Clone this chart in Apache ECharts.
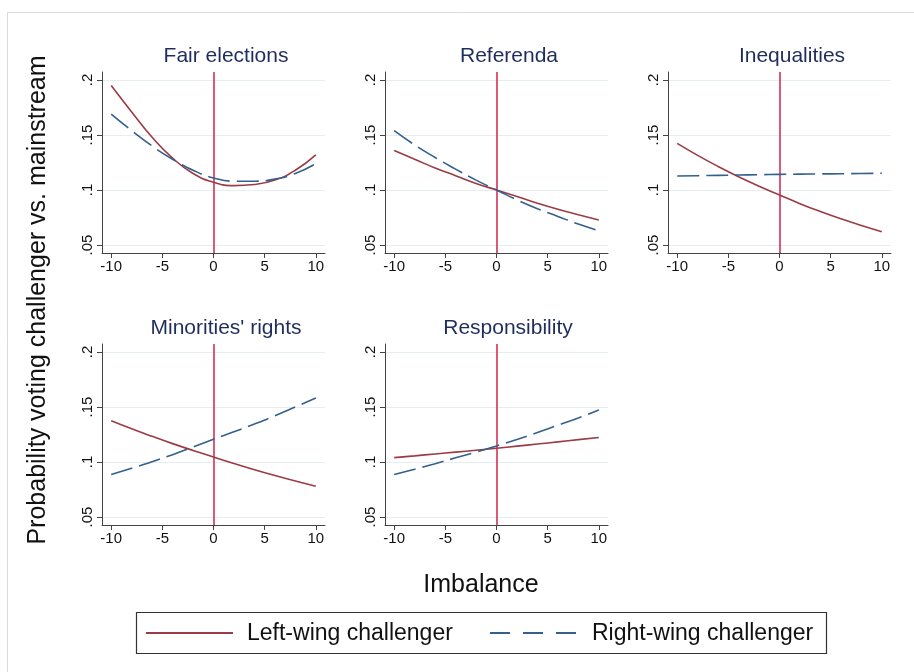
<!DOCTYPE html>
<html><head><meta charset="utf-8">
<script src="https://cdn.jsdelivr.net/npm/echarts@6/dist/echarts.min.js"></script>
<style>html,body{margin:0;padding:0;background:#fff}#c{width:914px;height:672px}</style>
</head><body><div id="c"></div>
<script>
// ---- data ----
const imbalance = [-10, -8, -6, -4, -2, 0, 2, 4, 6, 8, 10];
const panelTitles = ['Fair elections', 'Referenda', 'Inequalities', "Minorities' rights", 'Responsibility'];
const seriesNames = ['Left-wing challenger', 'Right-wing challenger'];
const xTicks = [-10, -5, 0, 5, 10];
const yTicks = [0.05, 0.1, 0.15, 0.2];

const fairLeft   = [0.195, 0.171, 0.148, 0.129, 0.115, 0.107, 0.104, 0.105, 0.109, 0.118, 0.132];
const fairRight  = [0.169, 0.154, 0.140, 0.128, 0.118, 0.111, 0.108, 0.108, 0.110, 0.115, 0.124];
const refLeft    = [0.136, 0.128, 0.120, 0.113, 0.106, 0.100, 0.094, 0.088, 0.0825, 0.0775, 0.0727];
const refRight   = [0.154, 0.141, 0.1295, 0.119, 0.109, 0.100, 0.091, 0.083, 0.076, 0.069, 0.063];
const ineqLeft   = [0.1424, 0.1315, 0.1214, 0.1120, 0.1034, 0.0955, 0.0876, 0.0804, 0.0738, 0.0677, 0.0621];
const ineqRight  = [0.1127, 0.1130, 0.1133, 0.1136, 0.1139, 0.1142, 0.1144, 0.1146, 0.1148, 0.1150, 0.1152];
const minLeft    = [0.1375, 0.1302, 0.1233, 0.1167, 0.1105, 0.1046, 0.0986, 0.0930, 0.0877, 0.0827, 0.0780];
const minRight   = [0.0887, 0.0943, 0.1003, 0.1067, 0.1135, 0.1207, 0.1274, 0.1345, 0.1420, 0.1500, 0.1582];
const respLeft   = [0.1040, 0.1056, 0.1073, 0.1090, 0.1107, 0.1125, 0.1144, 0.1163, 0.1183, 0.1203, 0.1223];
const respRight  = [0.0887, 0.0935, 0.0985, 0.1038, 0.1090, 0.1146, 0.1205, 0.1268, 0.1334, 0.1400, 0.1473];

const panelData = [[fairLeft, fairRight], [refLeft, refRight], [ineqLeft, ineqRight], [minLeft, minRight], [respLeft, respRight]];

// ---- layout / style ----
const FONT = "'Liberation Sans', Arial, Helvetica, sans-serif";
const RED = '#9a3b45', BLUE = '#33608c', VLINE = '#d3315a', TITLE = '#1e2d5c', AXIS = '#444';
const gridPos = [
  {left: 102, top: 72}, {left: 385, top: 72}, {left: 668, top: 72},
  {left: 102, top: 344}, {left: 385, top: 344}
];
const titlePos = [[226, 56], [509, 56], [792, 56], [226, 328], [508, 328]];

const grid = [], xAxis = [], yAxis = [], series = [], graphic = [];
gridPos.forEach((g, i) => {
  grid.push({left: g.left, top: g.top, width: 223, height: 181, containLabel: false});
  xAxis.push({
    type: 'value', gridIndex: i, min: -10.9, max: 10.9,
    axisLine: {show: true, onZero: false, lineStyle: {color: AXIS, width: 1}},
    axisTick: {show: true, length: 5, customValues: xTicks, lineStyle: {color: AXIS}},
    axisLabel: {customValues: xTicks, margin: 6, color: '#111', fontSize: 15, fontFamily: FONT},
    splitLine: {show: false}
  });
  yAxis.push({
    type: 'value', gridIndex: i, min: 0.04273, max: 0.20727,
    axisLine: {show: true, onZero: false, lineStyle: {color: AXIS, width: 1}},
    axisTick: {show: true, length: 5, customValues: yTicks, lineStyle: {color: AXIS}},
    axisLabel: {customValues: yTicks, rotate: 90, margin: 7, color: '#111', fontSize: 15, fontFamily: FONT,
      formatter: v => String(+v.toFixed(3)).replace(/^0/, '')},
    splitLine: {show: true, lineStyle: {color: '#e6eef2', width: 1}}
  });
  const [L, R] = panelData[i];
  series.push({
    name: seriesNames[0], type: 'line', xAxisIndex: i, yAxisIndex: i, smooth: true, symbol: 'none',
    lineStyle: {color: RED, width: 1.6}, itemStyle: {color: RED}, z: 3,
    data: imbalance.map((x, k) => [x, L[k]]),
    markLine: {silent: true, symbol: ['none', 'none'], label: {show: false},
      lineStyle: {color: VLINE, width: 1.6, type: 'solid'}, data: [{xAxis: 0}], z: 2}
  });
  series.push({
    name: seriesNames[1], type: 'line', xAxisIndex: i, yAxisIndex: i, smooth: true, symbol: 'none',
    lineStyle: {color: BLUE, width: 1.6, type: [22, 7]}, itemStyle: {color: BLUE}, z: 4,
    data: imbalance.map((x, k) => [x, R[k]])
  });
  graphic.push({type: 'text', x: titlePos[i][0], y: titlePos[i][1],
    style: {text: panelTitles[i], fill: TITLE, font: '21px ' + FONT, align: 'center', verticalAlign: 'middle'}});
});

// frame, axis titles
graphic.push({type: 'rect', shape: {x: 7.5, y: 12.5, width: 920, height: 680}, style: {fill: 'none', stroke: '#d9d9d9', lineWidth: 1}, z: -10});
graphic.push({type: 'text', x: 38, y: 300, rotation: Math.PI / 2,
  style: {text: 'Probability voting challenger vs. mainstream', fill: '#111', font: '25px ' + FONT, align: 'center', verticalAlign: 'middle'}});
graphic.push({type: 'text', x: 481, y: 585,
  style: {text: 'Imbalance', fill: '#111', font: '25px ' + FONT, align: 'center', verticalAlign: 'middle'}});

// legend box
graphic.push({type: 'rect', shape: {x: 136.5, y: 612.5, width: 690, height: 41}, style: {fill: '#fff', stroke: '#333', lineWidth: 1.2}});
graphic.push({type: 'line', shape: {x1: 146, y1: 633, x2: 233, y2: 633}, style: {stroke: RED, lineWidth: 2}});
graphic.push({type: 'line', shape: {x1: 490, y1: 633, x2: 577, y2: 633}, style: {stroke: BLUE, lineWidth: 2, lineDash: [20, 13]}});
graphic.push({type: 'text', x: 247, y: 634, style: {text: seriesNames[0], fill: '#111', font: '23px ' + FONT, align: 'left', verticalAlign: 'middle'}});
graphic.push({type: 'text', x: 592, y: 634, style: {text: seriesNames[1], fill: '#111', font: '23px ' + FONT, align: 'left', verticalAlign: 'middle'}});

const chart = echarts.init(document.getElementById('c'), null, {renderer: 'canvas'});
chart.setOption({
  animation: false,
  backgroundColor: '#fff',
  grid, xAxis, yAxis, series, graphic
});
</script>
</body></html>
